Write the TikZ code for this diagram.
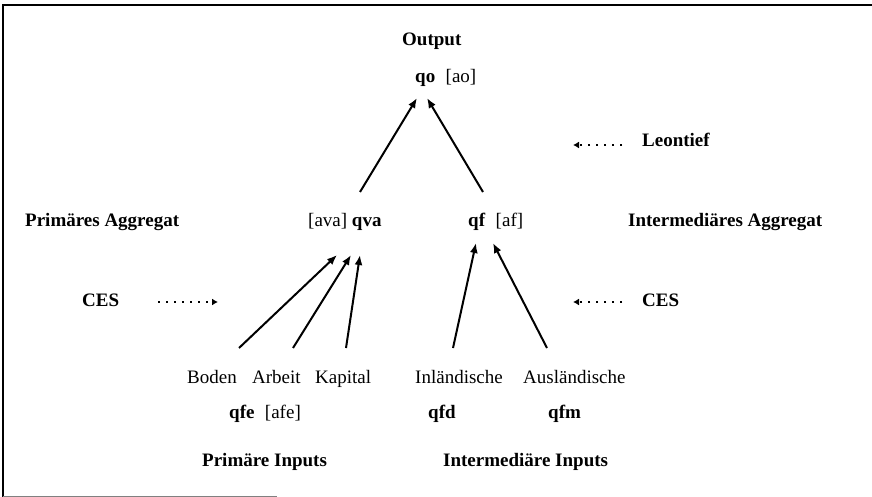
\documentclass[tikz,border=0pt]{standalone}
\usepackage{fontspec}
\setmainfont{Liberation Serif}
\usetikzlibrary{arrows.meta}
\begin{document}
\begin{tikzpicture}[x=1pt,y=-1pt,
  lbl/.style={anchor=base west,inner sep=0pt,font=\fontsize{19}{22}\selectfont\bfseries},
  plain/.style={anchor=base west,inner sep=0pt,font=\fontsize{19}{22}\selectfont},
  arr/.style={line width=2pt,-{Latex[length=10pt,width=8pt]}},
  darr/.style={line width=2pt,dash pattern=on 2pt off 6pt,-{Latex[length=6pt,width=7pt]}}]
\useasboundingbox (0,0) rectangle (872,497);
% frame (partial, as scanned)
\draw[line width=2.2pt] (3,497) -- (3,5) -- (872,5);
\draw[line width=1pt,gray] (3,496) -- (277,496);
% texts
\node[lbl] (out) at (402,46) {Output};
\node[lbl] (qo) at (415,83) {qo\hspace{0.55em}\textmd{[ao]}};
\node[lbl] (leon) at (642,147) {Leontief};
\node[lbl] (pagg) at (25,226) {Primäres Aggregat};
\node[lbl] (qva) at (308,226) {\textmd{[ava]} qva};
\node[lbl] (qf) at (468,226) {qf\hspace{0.55em}\textmd{[af]}};
\node[lbl] (iagg) at (628,226) {Intermediäres Aggregat};
\node[lbl] (cesl) at (82,306) {CES};
\node[lbl] (cesr) at (642,306) {CES};
\node[plain] (boden) at (187,383) {Boden};
\node[plain] (arbeit) at (252,383) {Arbeit};
\node[plain] (kapital) at (315,383) {Kapital};
\node[plain] (inl) at (415,383) {Inländische};
\node[plain] (ausl) at (523,383) {Ausländische};
\node[lbl] (qfe) at (229,418) {qfe\hspace{0.55em}\textmd{[afe]}};
\node[lbl] (qfd) at (428,418) {qfd};
\node[lbl] (qfm) at (548,418) {qfm};
\node[lbl] (pin) at (202,466) {Primäre Inputs};
\node[lbl] (iin) at (443,466) {Intermediäre Inputs};
% arrow end points
\coordinate (qoL) at (417,98);
\coordinate (qoR) at (427,98);
\coordinate (qvaT) at (360,192);
\coordinate (qfT) at (483,192);
\coordinate (qvaA) at (337,255);
\coordinate (qvaB) at (351,255);
\coordinate (qvaC) at (360,255);
\coordinate (qfA) at (476,243);
\coordinate (qfB) at (493,243);
\coordinate (bodenT) at (239,348);
\coordinate (arbeitT) at (293,348);
\coordinate (kapitalT) at (346,348);
\coordinate (inlT) at (453,348);
\coordinate (auslT) at (547,348);
\coordinate (leonS) at (622,145);
\coordinate (leonE) at (573,145);
\coordinate (cesrS) at (622,302);
\coordinate (cesrE) at (573,302);
\coordinate (ceslS) at (158,302);
\coordinate (ceslE) at (218,302);
% connectors
\draw[arr] (qvaT) -- (qoL);
\draw[arr] (qfT) -- (qoR);
\draw[arr] (bodenT) -- (qvaA);
\draw[arr] (arbeitT) -- (qvaB);
\draw[arr] (kapitalT) -- (qvaC);
\draw[arr] (inlT) -- (qfA);
\draw[arr] (auslT) -- (qfB);
\draw[darr] (leonS) -- (leonE);
\draw[darr] (cesrS) -- (cesrE);
\draw[darr] (ceslS) -- (ceslE);
\end{tikzpicture}
\end{document}
